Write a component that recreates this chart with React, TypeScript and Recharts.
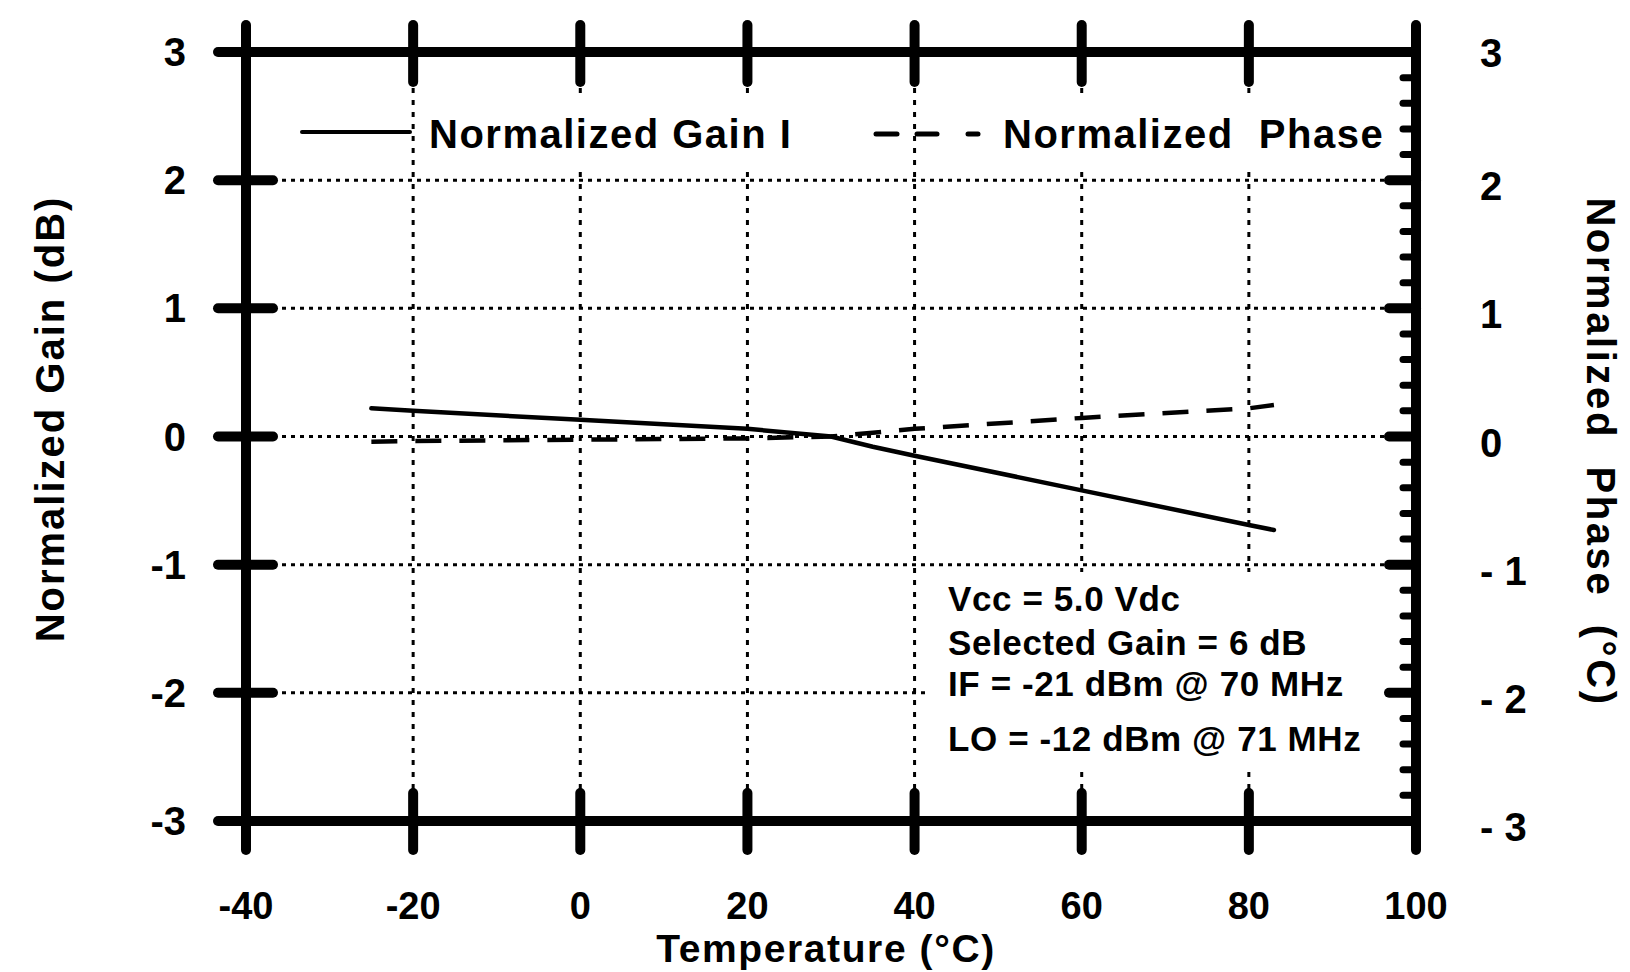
import React from 'react';
import { LineChart, Line, XAxis, YAxis, CartesianGrid, Customized } from 'recharts';

// ---- data ----
const temperatures = [-25, -20, 0, 20, 30, 35, 40, 60, 80, 83];
const gainValues = [0.22, 0.2, 0.13, 0.06, 0.0, -0.08, -0.15, -0.42, -0.69, -0.73];
const phaseValues = [-0.04, -0.035, -0.025, -0.015, 0.0, 0.03, 0.06, 0.145, 0.22, 0.245];

const xTicks = [-40, -20, 0, 20, 40, 60, 80, 100];
const leftTicks = [-3, -2, -1, 0, 1, 2, 3];
const rightMajorTicks = [-3, -2, -1, 0, 1, 2, 3];
const rightMajorLabels = ['- 3', '- 2', '- 1', '0', '1', '2', '3'];
const rightMinorTicks = [
  -2.8, -2.6, -2.4, -2.2, -1.8, -1.6, -1.4, -1.2, -0.8, -0.6, -0.4, -0.2,
  0.2, 0.4, 0.6, 0.8, 1.2, 1.4, 1.6, 1.8, 2.2, 2.4, 2.6, 2.8,
];
const rightTicks = [...rightMajorTicks, ...rightMinorTicks].sort((a, b) => a - b);

const legendGain = 'Normalized Gain I';
const legendPhase = 'Normalized  Phase';
const xTitle = 'Temperature (°C)';
const yLeftTitle = 'Normalized Gain (dB)';
const yRightTitle = 'Normalized  Phase  (°C)';
const notes = ['Vcc = 5.0 Vdc', 'Selected Gain = 6 dB', 'IF = -21 dBm @ 70 MHz', 'LO = -12 dBm @ 71 MHz'];

const rows = temperatures.map((t, i) => ({ t, gain: gainValues[i], phase: phaseValues[i] }));

const FONT = "'Liberation Sans', Arial, Helvetica, sans-serif";
const txt: React.CSSProperties = { fontFamily: FONT, fontWeight: 700, whiteSpace: 'pre' };

const BottomTick = (props: any) => {
  const { x, y, payload } = props;
  return (
    <g>
      <line x1={x} x2={x} y1={y - 28} y2={y + 29} stroke="#000" strokeWidth={10} strokeLinecap="round" />
      <text x={x} y={y + 98} textAnchor="middle" fontSize={38} fill="#000" style={txt}>
        {payload.value}
      </text>
    </g>
  );
};

const TopTick = (props: any) => {
  const { x, y } = props;
  return <line x1={x} x2={x} y1={y - 27} y2={y + 30} stroke="#000" strokeWidth={10} strokeLinecap="round" />;
};

const LeftTick = (props: any) => {
  const { x, y, payload } = props;
  return (
    <g>
      <line x1={x - 28} x2={x + 27} y1={y} y2={y} stroke="#000" strokeWidth={10} strokeLinecap="round" />
      <text x={x - 60} y={y + 14} textAnchor="end" fontSize={40} fill="#000" style={txt}>
        {payload.value}
      </text>
    </g>
  );
};

const RightTick = (props: any) => {
  const { x, y, payload } = props;
  const idx = rightMajorTicks.indexOf(payload.value);
  if (idx < 0) {
    return <line x1={x - 13} x2={x} y1={y} y2={y} stroke="#000" strokeWidth={7} strokeLinecap="round" />;
  }
  const dy = payload.value === 3 ? 15 : 20;
  return (
    <g>
      <line x1={x - 27} x2={x} y1={y} y2={y} stroke="#000" strokeWidth={10} strokeLinecap="round" />
      <text x={x + 64} y={y + dy} textAnchor="start" fontSize={40} fill="#000" style={txt}>
        {rightMajorLabels[idx]}
      </text>
    </g>
  );
};

const Overlay = () => (
  <g>
    {/* legend */}
    <line x1={302} x2={410} y1={132} y2={132} stroke="#000" strokeWidth={4} strokeLinecap="round" />
    <rect x={422} y={100} width={378} height={72} fill="#fff" />
    <text x={429} y={148} fontSize={40} letterSpacing={1.5} fill="#000" style={txt}>
      {legendGain}
    </text>
    <rect x={868} y={108} width={44} height={50} fill="#fff" />
    <rect x={996} y={100} width={396} height={72} fill="#fff" />
    <line x1={876} x2={897} y1={134} y2={134} stroke="#000" strokeWidth={5} strokeLinecap="round" />
    <line x1={917} x2={937} y1={134} y2={134} stroke="#000" strokeWidth={5} strokeLinecap="round" />
    <line x1={968} x2={978} y1={134} y2={134} stroke="#000" strokeWidth={5} strokeLinecap="round" />
    <text x={1003} y={148} fontSize={40} letterSpacing={1.5} fill="#000" style={txt}>
      {legendPhase}
    </text>
    {/* conditions note */}
    <rect x={930} y={572} width={468} height={196} fill="#fff" />
    <text x={948} y={611} fontSize={35} letterSpacing={0.6} fill="#000" style={txt}>{notes[0]}</text>
    <text x={948} y={655} fontSize={35} letterSpacing={0.6} fill="#000" style={txt}>{notes[1]}</text>
    <text x={948} y={696} fontSize={35} letterSpacing={0.6} fill="#000" style={txt}>{notes[2]}</text>
    <text x={948} y={751} fontSize={35} letterSpacing={0.6} fill="#000" style={txt}>{notes[3]}</text>
    {/* axis titles */}
    <text x={826} y={962} textAnchor="middle" fontSize={39} letterSpacing={1.6} fill="#000" style={txt}>
      {xTitle}
    </text>
    <text
      x={50}
      y={419}
      textAnchor="middle"
      dominantBaseline="central"
      fontSize={40}
      letterSpacing={2}
      fill="#000"
      style={txt}
      transform="rotate(-90 50 419)"
    >
      {yLeftTitle}
    </text>
    <text
      x={1601}
      y={452}
      textAnchor="middle"
      dominantBaseline="central"
      fontSize={40}
      letterSpacing={2.6}
      fill="#000"
      style={txt}
      transform="rotate(90 1601 452)"
    >
      {yRightTitle}
    </text>
  </g>
);

export default function App() {
  return (
    <div style={{ position: 'absolute', left: 0, top: 0, width: 1630, height: 972, background: '#fff' }}>
      <LineChart width={1630} height={972} data={rows} margin={{ top: 0, right: 0, bottom: 0, left: 0 }}>
        <CartesianGrid horizontal vertical={false} stroke="#000" strokeWidth={3} strokeDasharray="4 5" />
        <CartesianGrid horizontal={false} vertical stroke="#000" strokeWidth={3} strokeDasharray="5 7" />
        <XAxis
          dataKey="t"
          type="number"
          domain={[-40, 100]}
          allowDataOverflow
          ticks={xTicks}
          interval={0}
          height={151}
          tickSize={0}
          tickMargin={0}
          tickLine={false}
          axisLine={{ stroke: '#000', strokeWidth: 10 }}
          tick={<BottomTick />}
        />
        <XAxis
          xAxisId="top"
          orientation="top"
          dataKey="t"
          type="number"
          domain={[-40, 100]}
          allowDataOverflow
          ticks={xTicks}
          interval={0}
          height={52}
          tickSize={0}
          tickMargin={0}
          tickLine={false}
          axisLine={{ stroke: '#000', strokeWidth: 10 }}
          tick={<TopTick />}
        />
        <YAxis
          type="number"
          domain={[-3, 3]}
          allowDataOverflow
          ticks={leftTicks}
          interval={0}
          width={246}
          tickSize={0}
          tickMargin={0}
          tickLine={false}
          axisLine={{ stroke: '#000', strokeWidth: 10 }}
          tick={<LeftTick />}
        />
        <YAxis
          yAxisId="right"
          orientation="right"
          type="number"
          domain={[-3, 3]}
          allowDataOverflow
          ticks={rightTicks}
          interval={0}
          width={214}
          tickSize={0}
          tickMargin={0}
          tickLine={false}
          axisLine={{ stroke: '#000', strokeWidth: 10 }}
          tick={<RightTick />}
        />
        <Line
          dataKey="gain"
          type="linear"
          stroke="#000"
          strokeWidth={4.5}
          strokeLinecap="round"
          dot={false}
          activeDot={false}
          isAnimationActive={false}
        />
        <Line
          dataKey="phase"
          yAxisId="right"
          type="linear"
          stroke="#000"
          strokeWidth={4.5}
          strokeDasharray="26 18"
          dot={false}
          activeDot={false}
          isAnimationActive={false}
        />
        <Customized component={Overlay} />
      </LineChart>
    </div>
  );
}
